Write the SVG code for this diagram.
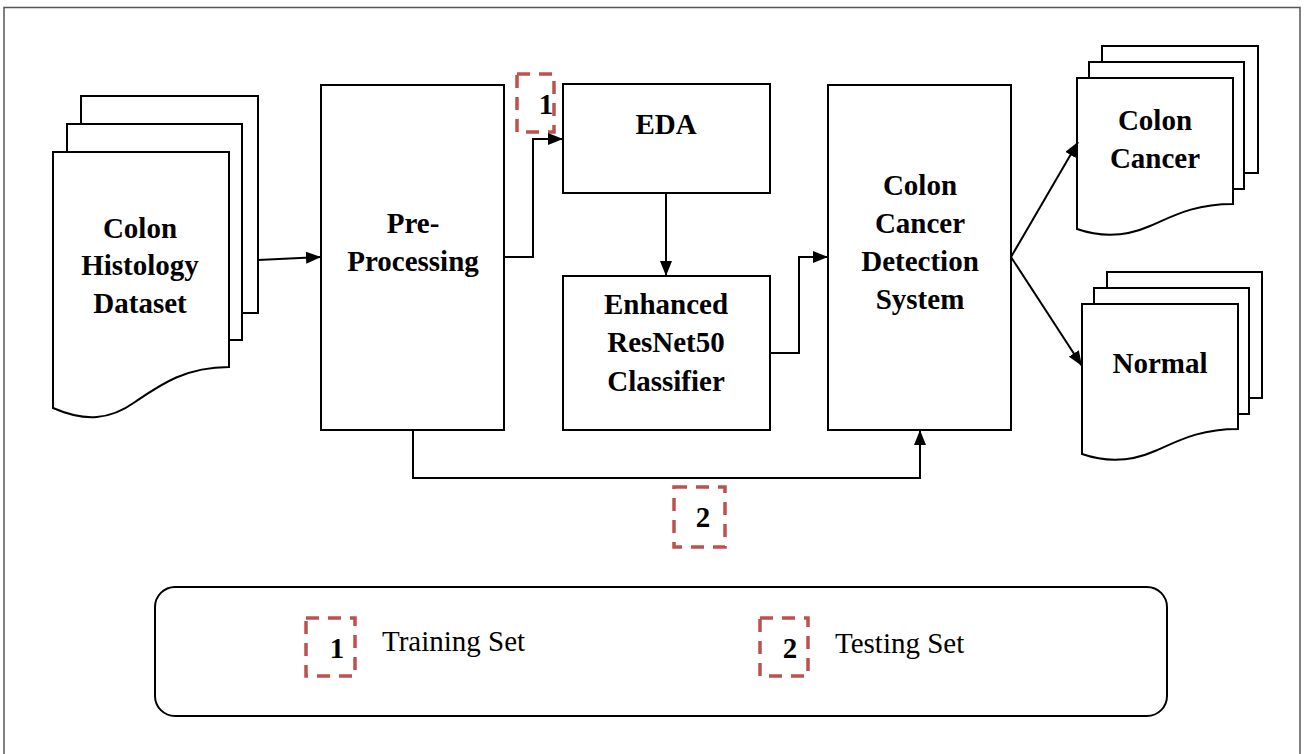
<svg xmlns="http://www.w3.org/2000/svg" width="1304" height="754" viewBox="0 0 1304 754">
  <defs>
    <marker id="arrow" markerUnits="userSpaceOnUse" markerWidth="15" markerHeight="12" refX="15" refY="6" orient="auto">
      <path d="M0,0 L15,6 L0,12 Z" fill="#000"/>
    </marker>
    <style>
      .shape { fill: #fff; stroke: #000; stroke-width: 2; }
      .wire { fill: none; stroke: #000; stroke-width: 2; marker-end: url(#arrow); }
      .tag { fill: none; stroke: #c0504d; stroke-width: 3.5; stroke-dasharray: 13 9; }
      .label { font-family: "Liberation Serif", "Times New Roman", serif; font-weight: bold; font-size: 29px; fill: #000; text-anchor: middle; }
      .legend { font-family: "Liberation Serif", "Times New Roman", serif; font-size: 29px; fill: #000; }
    </style>
  </defs>

  <rect width="1304" height="754" fill="#fff"/>
  <rect x="4" y="7.5" width="1296" height="760" fill="none" stroke="#555" stroke-width="1.5"/>

  <!-- input dataset: stack of documents -->
  <g id="dataset">
    <rect class="shape" x="81" y="96" width="177" height="217"/>
    <rect class="shape" x="67" y="124" width="175" height="216"/>
    <path class="shape" d="M53,152 H229 V367 C185,367 160,385 135,402 C110,420 85,422 53,408 Z"/>
    <text class="label" x="140" y="238">Colon</text>
    <text class="label" x="140" y="275">Histology</text>
    <text class="label" x="140" y="313">Dataset</text>
  </g>

  <g id="preprocessing">
    <rect class="shape" x="321" y="85" width="183" height="345"/>
    <text class="label" x="413" y="233">Pre-</text>
    <text class="label" x="413" y="271">Processing</text>
  </g>

  <g id="eda">
    <rect class="shape" x="563" y="84" width="207" height="109"/>
    <text class="label" x="666" y="134">EDA</text>
  </g>

  <g id="resnet">
    <rect class="shape" x="563" y="276" width="207" height="154"/>
    <text class="label" x="666" y="314">Enhanced</text>
    <text class="label" x="666" y="352">ResNet50</text>
    <text class="label" x="666" y="391">Classifier</text>
  </g>

  <g id="detection">
    <rect class="shape" x="828" y="85" width="183" height="345"/>
    <text class="label" x="920" y="195">Colon</text>
    <text class="label" x="920" y="233">Cancer</text>
    <text class="label" x="920" y="271">Detection</text>
    <text class="label" x="920" y="309">System</text>
  </g>

  <g id="cancer">
    <rect class="shape" x="1102" y="46" width="156" height="127"/>
    <rect class="shape" x="1089" y="62" width="155" height="127"/>
    <path class="shape" d="M1077,78 H1233 V204 C1195,204 1175,215 1150,226 C1125,237 1100,237 1077,229 Z"/>
    <text class="label" x="1155" y="130">Colon</text>
    <text class="label" x="1155" y="168">Cancer</text>
  </g>

  <g id="normal">
    <rect class="shape" x="1107" y="272" width="155" height="126"/>
    <rect class="shape" x="1094" y="288" width="155" height="126"/>
    <path class="shape" d="M1082,304 H1238 V429 C1200,429 1180,440 1155,451 C1130,462 1105,462 1082,454 Z"/>
    <text class="label" x="1160" y="373">Normal</text>
  </g>

  <!-- data-split tags on the flow -->
  <g id="tag-train">
    <rect class="tag" x="517" y="74" width="37" height="58"/>
    <text class="label" x="546" y="114">1</text>
  </g>
  <g id="tag-test">
    <rect class="tag" x="674" y="487" width="51" height="60"/>
    <text class="label" x="703" y="527">2</text>
  </g>

  <g id="connectors">
    <path class="wire" d="M258,260 L321,257"/>
    <path class="wire" d="M504,257 H533 V139 H563"/>
    <path class="wire" d="M666,193 V276"/>
    <path class="wire" d="M770,353 H799 V257 H828"/>
    <path class="wire" d="M1011,257 L1078,142"/>
    <path class="wire" d="M1011,257 L1082,366"/>
    <path class="wire" d="M413,430 V478 H920 V430"/>
  </g>

  <g id="legend">
    <rect x="155" y="587" width="1012" height="129" rx="20" ry="20" fill="#fff" stroke="#000" stroke-width="2"/>
    <rect class="tag" x="306" y="618" width="49" height="58"/>
    <text class="label" x="337" y="658">1</text>
    <text class="legend" x="382" y="651">Training Set</text>
    <rect class="tag" x="760" y="618" width="48" height="58"/>
    <text class="label" x="790" y="658">2</text>
    <text class="legend" x="835" y="653">Testing Set</text>
  </g>
</svg>
